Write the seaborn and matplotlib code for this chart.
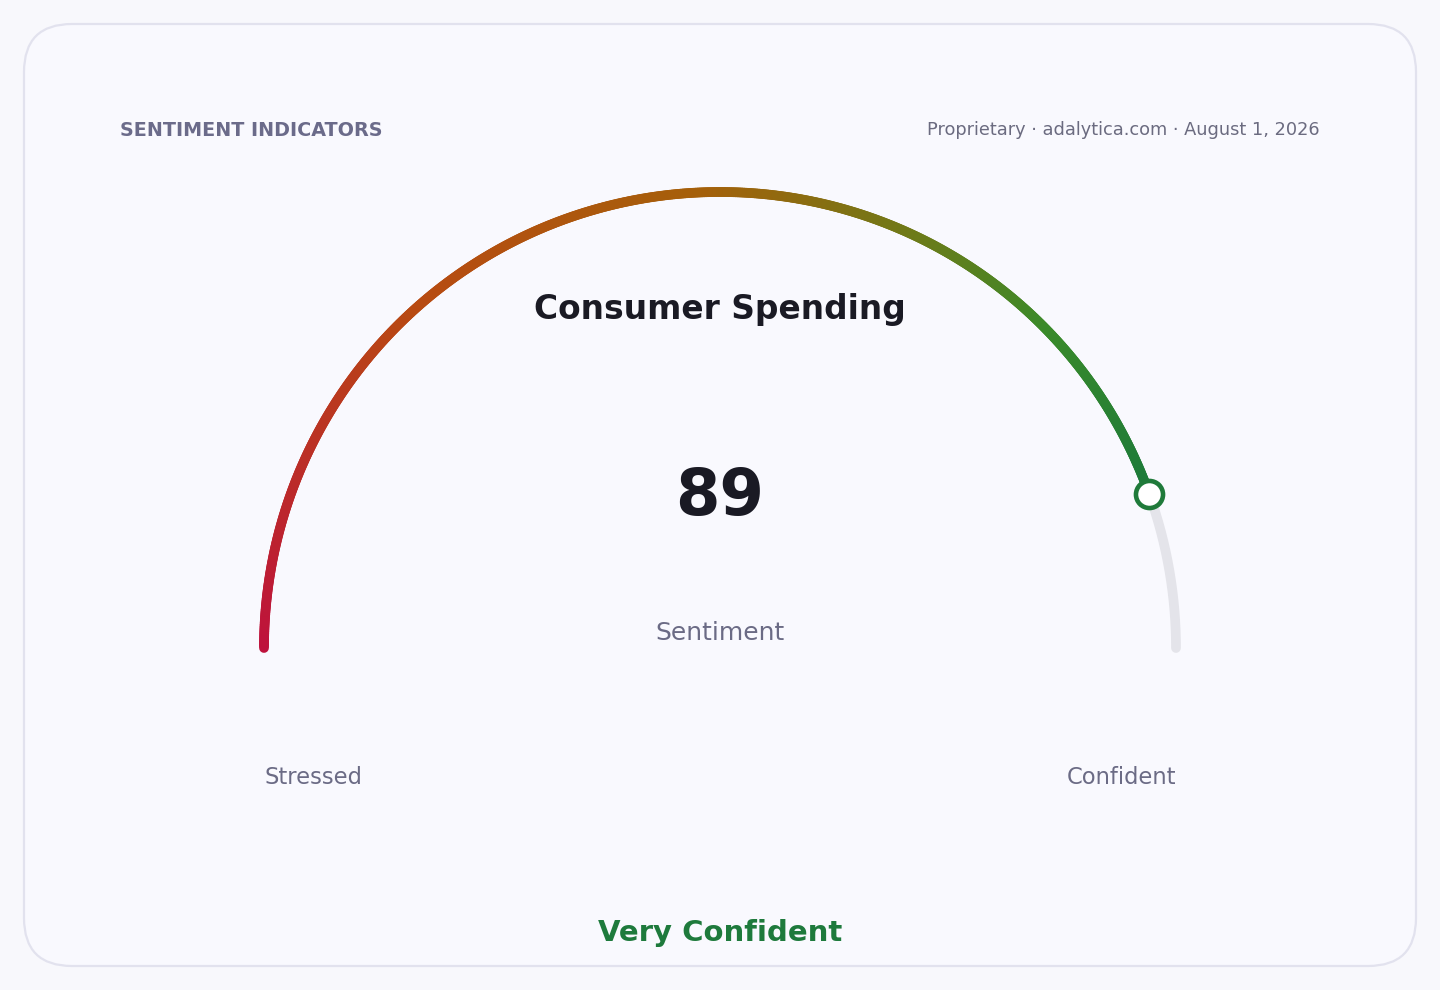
import numpy as np
import pandas as pd
import seaborn as sns
import matplotlib.pyplot as plt
from matplotlib.collections import LineCollection
from matplotlib.patches import FancyBboxPatch
from matplotlib.colors import LinearSegmentedColormap

# data
title = "Consumer Spending"
value = 89
vmin, vmax = 0, 100
metric = "Sentiment"
low_label = "Stressed"
high_label = "Confident"
status = "Very Confident"
header_left = "SENTIMENT INDICATORS"
header_right = "Proprietary · adalytica.com · August 1, 2026"

sns.set_theme(style="white")
plt.rcParams['font.family'] = ['DejaVu Sans']

fig = plt.figure(figsize=(14.4, 9.9), dpi=100)
fig.patch.set_facecolor("#f8f8fc")
ax = fig.add_axes([0, 0, 1, 1])
ax.set_xlim(0, 1440)
ax.set_ylim(990, 0)
ax.axis("off")

# card
card = FancyBboxPatch((24, 24), 1392, 942, boxstyle="round,pad=0,rounding_size=48",
                      fc="#f9f9fe", ec="#e2e2ee", lw=1.6)
ax.add_patch(card)

cx, cy, r = 720, 648, 456


def arc_df(a, b, n=300):
    frac = np.linspace(a, b, n)
    ang = np.pi * (1 - frac)
    return pd.DataFrame({"x": cx + r * np.cos(ang), "y": cy - r * np.sin(ang), "f": frac})


vfrac = (value - vmin) / (vmax - vmin)

# grey track for remaining part
track = arc_df(vfrac, 1.0)
sns.lineplot(data=track, x="x", y="y", sort=False, ax=ax, color="#e4e4ea",
             lw=7, solid_capstyle="round", estimator=None)

# gradient filled part
cmap = LinearSegmentedColormap.from_list(
    "g", [(0, "#be123c"), (0.3, "#b84a12"), (0.55, "#a5600a"),
          (0.72, "#6e7a18"), (0.85, "#3a8a2a"), (1.0, "#1c7a3a")])
fill = arc_df(0, vfrac, 600)
pts = fill[["x", "y"]].to_numpy().reshape(-1, 1, 2)
segs = np.concatenate([pts[:-1], pts[1:]], axis=1)
lc = LineCollection(segs, colors=cmap(fill["f"].to_numpy()[:-1] / vfrac),
                    lw=7, capstyle="round")
ax.add_collection(lc)

# marker
end = fill.iloc[[-1]]
sns.scatterplot(data=end, x="x", y="y", ax=ax, s=380, color="white",
                edgecolor="#1f7a3a", linewidth=3.3, zorder=5)

# texts
ax.text(120, 130, header_left, ha="left", va="center", fontsize=13.8, fontweight="bold", color="#6b6b8a")
ax.text(1320, 130, header_right, ha="right", va="center", fontsize=12.8, color="#6b6b80")
ax.text(720, 309, title, ha="center", va="center", fontsize=23.7, fontweight="bold", color="#1a1a24")
ax.text(720, 497, str(value), ha="center", va="center", fontsize=46, fontweight="bold", color="#1a1a24")
ax.text(720, 633, metric, ha="center", va="center", fontsize=18, color="#6b6b85")
ax.text(264, 778, low_label, ha="left", va="center", fontsize=16.3, color="#6b6b85")
ax.text(1176, 778, high_label, ha="right", va="center", fontsize=16.3, color="#6b6b85")
ax.text(720, 933, status, ha="center", va="center", fontsize=21, fontweight="bold", color="#1e7a3c")

fig.savefig("out.png", dpi=100, facecolor=fig.get_facecolor())
